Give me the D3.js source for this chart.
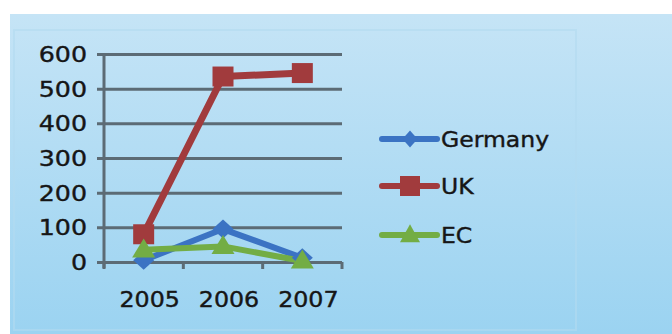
<!DOCTYPE html>
<html><head><meta charset="utf-8">
<script src="https://cdn.jsdelivr.net/npm/d3@7"></script>
<style>html,body{margin:0;padding:0;background:#fff;}svg{display:block;}</style>
</head><body>
<script>
const years = ["2005", "2006", "2007"];
const germany = [5, 95, 12];
const uk = [80, 535, 545];
const ec = [35, 45, 3];
const yTicks = [0, 100, 200, 300, 400, 500, 600];
const seriesNames = ["Germany", "UK", "EC"];

const W = 672, H = 334;
const svg = d3.select("body").append("svg").attr("width", W).attr("height", H);
const defs = svg.append("defs");
const bg = defs.append("linearGradient").attr("id", "bg").attr("x1", 0).attr("y1", 0).attr("x2", 0).attr("y2", 1);
bg.append("stop").attr("offset", "0%").attr("stop-color", "#c5e4f6");
bg.append("stop").attr("offset", "100%").attr("stop-color", "#9bd3f1");
svg.append("rect").attr("x", 10).attr("y", 14).attr("width", W - 10).attr("height", H - 14).attr("fill", "url(#bg)");
svg.append("rect").attr("x", 14).attr("y", 30).attr("width", 562).attr("height", 300)
  .attr("fill", "none").attr("stroke", "#b2daf0").attr("stroke-width", 2).attr("opacity", 0.6);

const x = d3.scaleBand().domain(years).range([104, 342]);
const y = d3.scaleLinear().domain([0, 600]).range([262, 54]);

const g = svg.append("g");
const yAxis = d3.axisLeft(y).tickValues(yTicks).tickSize(-(342 - 97)).tickFormat("");
const ga = g.append("g").attr("transform", "translate(97,0)").call(yAxis);
ga.select(".domain").remove();
ga.selectAll(".tick line").attr("stroke", "#5c6b75").attr("stroke-width", 3);
g.append("line").attr("x1", 104).attr("x2", 104).attr("y1", 54).attr("y2", 268)
  .attr("stroke", "#5c6b75").attr("stroke-width", 3);
const xTickPos = [104].concat(years.map(d => x(d) + x.bandwidth()));
g.selectAll(".xt").data(xTickPos).enter().append("line")
  .attr("x1", d => d).attr("x2", d => d).attr("y1", 262).attr("y2", 269)
  .attr("stroke", "#5c6b75").attr("stroke-width", 3);

const font = "'DejaVu Sans', sans-serif";
const txt = "#161616";
g.selectAll(".yl").data(yTicks).enter().append("text")
  .attr("transform", d => `translate(87,${y(d) + 8}) scale(1.15,1)`)
  .attr("text-anchor", "end").attr("font-family", font).attr("font-size", 22)
  .attr("fill", txt).attr("stroke", txt).attr("stroke-width", 0.4).text(d => d);
g.selectAll(".xl").data(years).enter().append("text")
  .attr("transform", d => `translate(${x(d) + x.bandwidth() / 2 + 6},307) scale(1.13,1)`)
  .attr("text-anchor", "middle").attr("font-family", font).attr("font-size", 21)
  .attr("fill", txt).attr("stroke", txt).attr("stroke-width", 0.4).text(d => d);

const colors = { Germany: "#3b73c3", UK: "#a13b3d", EC: "#73ad45" };
const data = { Germany: germany, UK: uk, EC: ec };
const line = d3.line().x((d, i) => x(years[i]) + x.bandwidth() / 2).y(d => y(d));

function diamond(w, h) { return `M0,${-h/2}L${w/2},0L0,${h/2}L${-w/2},0Z`; }
function square(w, h) { return `M${-w/2},${-h/2}H${w/2}V${h/2}H${-w/2}Z`; }
function triangle(w, h) { return `M0,${-h*0.6}L${w/2},${h*0.4}L${-w/2},${h*0.4}Z`; }
const markers = {
  Germany: diamond(21, 19),
  UK: square(21, 20),
  EC: triangle(23, 19)
};
const legMarkers = {
  Germany: diamond(15, 17),
  UK: square(20, 20),
  EC: triangle(20, 18)
};
const lw = { Germany: 6, UK: 7, EC: 6 };

seriesNames.forEach(name => {
  g.append("path").datum(data[name]).attr("d", line).attr("fill", "none")
    .attr("stroke", colors[name]).attr("stroke-width", lw[name]).attr("stroke-linejoin", "round");
});
seriesNames.forEach(name => {
  g.selectAll(".m" + name).data(data[name]).enter().append("path")
    .attr("d", markers[name])
    .attr("transform", (d, i) => `translate(${x(years[i]) + x.bandwidth() / 2},${y(d)})`)
    .attr("fill", colors[name]);
});

const legY = { Germany: 139, UK: 186, EC: 235 };
const lg = svg.append("g");
seriesNames.forEach(name => {
  lg.append("line").attr("x1", 382).attr("x2", 437).attr("y1", legY[name]).attr("y2", legY[name])
    .attr("stroke", colors[name]).attr("stroke-width", 6).attr("stroke-linecap", "round");
  lg.append("path").attr("d", legMarkers[name])
    .attr("transform", `translate(410,${legY[name]})`).attr("fill", colors[name]);
  lg.append("text").attr("transform", `translate(441,${legY[name] + 8}) scale(1.07,1)`)
    .attr("font-family", font).attr("font-size", 22)
    .attr("fill", txt).attr("stroke", txt).attr("stroke-width", 0.4).text(name);
});
</script>
</body></html>
